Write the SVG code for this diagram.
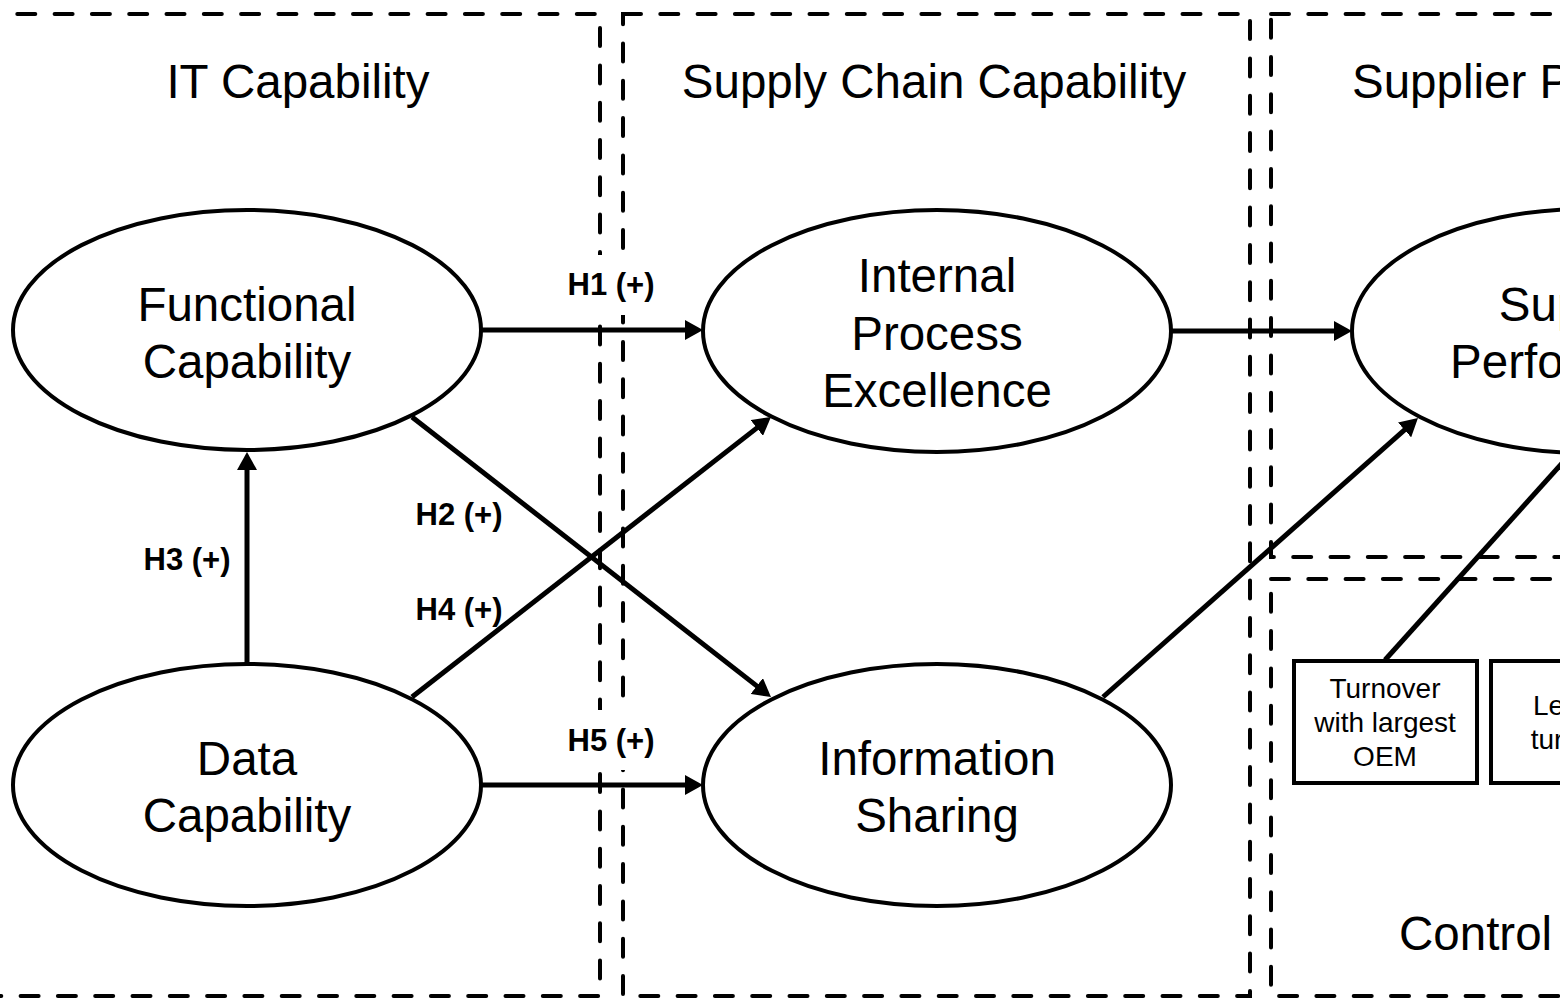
<svg xmlns="http://www.w3.org/2000/svg" width="1560" height="998" viewBox="0 0 1560 998">
  <defs>
    <style>
      .frame { fill: none; stroke: #000; stroke-width: 4; stroke-dasharray: 18 19.3; stroke-linecap: round; }
      .node { fill: #fff; stroke: #000; stroke-width: 4; }
      .box { fill: #fff; stroke: #000; stroke-width: 4; }
      .conn { fill: none; stroke: #000; stroke-width: 5; }
      .title { font-family: "Liberation Sans", Arial, sans-serif; font-size: 47.5px; fill: #000; text-anchor: middle; }
      .big { font-family: "Liberation Sans", Arial, sans-serif; font-size: 47.5px; fill: #000; text-anchor: middle; }
      .small { font-family: "Liberation Sans", Arial, sans-serif; font-size: 28px; fill: #000; text-anchor: middle; }
      .hyp { font-family: "Liberation Sans", Arial, sans-serif; font-size: 31px; font-weight: bold; fill: #000; text-anchor: middle; }
      .hypbg { fill: #fff; stroke: none; }
    </style>
    <marker id="arrow" viewBox="0 0 18 20" refX="8" refY="10" markerWidth="18" markerHeight="20" markerUnits="userSpaceOnUse" orient="auto">
      <path d="M0,0 L18,10 L0,20 Z" fill="#000"/>
    </marker>
  </defs>

  <rect width="1560" height="998" fill="#fff"/>

  <!-- dashed construct areas -->
  <g id="areas">
    <rect class="frame" x="-20" y="14" width="620" height="982"/>
    <rect class="frame" x="623" y="14" width="627" height="982"/>
    <rect class="frame" x="1271" y="14" width="420" height="543"/>
    <rect class="frame" x="1271" y="579" width="420" height="417"/>
    <text class="title" x="298" y="98">IT Capability</text>
    <text class="title" x="934" y="98">Supply Chain Capability</text>
    <text class="title" x="1352" y="98" style="text-anchor:start">Supplier Performance</text>
    <text class="title" x="1399" y="950" style="text-anchor:start">Control Variables</text>
  </g>

  <!-- connectors -->
  <g id="connectors">
    <line class="conn" x1="480" y1="330" x2="693" y2="330" marker-end="url(#arrow)"/>
    <line class="conn" x1="480" y1="785" x2="693" y2="785" marker-end="url(#arrow)"/>
    <line class="conn" x1="1171" y1="331" x2="1342" y2="331" marker-end="url(#arrow)"/>
    <line class="conn" x1="247" y1="664" x2="247" y2="462" marker-end="url(#arrow)"/>
    <line class="conn" x1="412" y1="417" x2="763.1" y2="690.9" marker-end="url(#arrow)"/>
    <line class="conn" x1="412" y1="697" x2="763.1" y2="423.1" marker-end="url(#arrow)"/>
    <line class="conn" x1="1103" y1="697" x2="1410.5" y2="424.6" marker-end="url(#arrow)"/>
    <line class="conn" x1="1385" y1="660" x2="1574" y2="450"/>
  </g>

  <!-- hypothesis labels -->
  <g id="labels">
    <rect class="hypbg" x="563" y="255" width="96" height="60"/>
    <text class="hyp" x="611" y="295">H1 (+)</text>
    <text class="hyp" x="459" y="525">H2 (+)</text>
    <text class="hyp" x="187" y="570">H3 (+)</text>
    <text class="hyp" x="459" y="620">H4 (+)</text>
    <rect class="hypbg" x="563" y="710" width="96" height="60"/>
    <text class="hyp" x="611" y="751">H5 (+)</text>
  </g>

  <!-- constructs -->
  <g id="functional-capability">
    <ellipse class="node" cx="247" cy="330" rx="234" ry="120"/>
    <text class="big" x="247" y="321">Functional</text>
    <text class="big" x="247" y="378">Capability</text>
  </g>
  <g id="data-capability">
    <ellipse class="node" cx="247" cy="785" rx="234" ry="121"/>
    <text class="big" x="247" y="775">Data</text>
    <text class="big" x="247" y="832">Capability</text>
  </g>
  <g id="internal-process-excellence">
    <ellipse class="node" cx="937" cy="331" rx="234" ry="121"/>
    <text class="big" x="937" y="292">Internal</text>
    <text class="big" x="937" y="350">Process</text>
    <text class="big" x="937" y="407">Excellence</text>
  </g>
  <g id="information-sharing">
    <ellipse class="node" cx="937" cy="785" rx="234" ry="121"/>
    <text class="big" x="937" y="775">Information</text>
    <text class="big" x="937" y="832">Sharing</text>
  </g>
  <g id="supplier-performance">
    <ellipse class="node" cx="1586" cy="331" rx="234" ry="122"/>
    <text class="big" x="1586" y="321">Supplier</text>
    <text class="big" x="1586" y="378">Performance</text>
  </g>

  <!-- control variables -->
  <g id="control-turnover-oem">
    <rect class="box" x="1294" y="661" width="183" height="122"/>
    <text class="small" x="1385" y="698">Turnover</text>
    <text class="small" x="1385" y="732">with largest</text>
    <text class="small" x="1385" y="766">OEM</text>
  </g>
  <g id="control-level-turnover">
    <rect class="box" x="1491" y="661" width="183" height="122"/>
    <text class="small" x="1582" y="715">Level of</text>
    <text class="small" x="1582" y="749">turnover</text>
  </g>
</svg>
